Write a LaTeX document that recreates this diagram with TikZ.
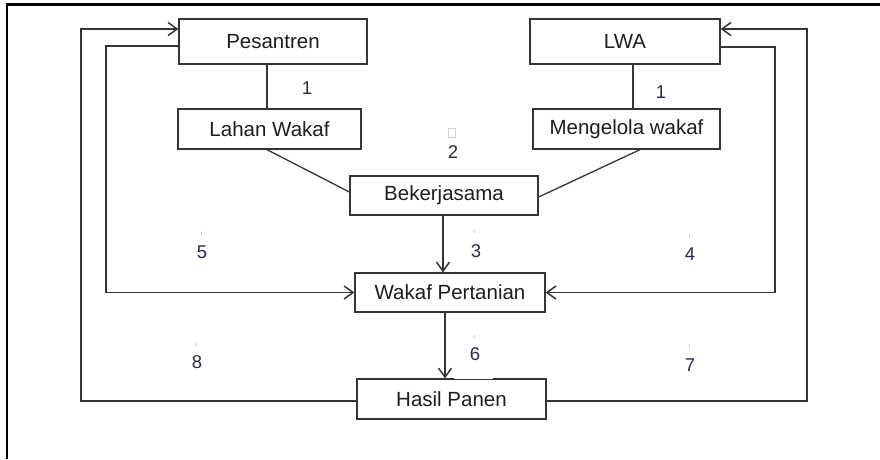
\documentclass[tikz,border=0pt]{standalone}
\usepackage{fontspec}
\setmainfont{Liberation Sans}
\usetikzlibrary{arrows.meta}
\definecolor{ink}{HTML}{1E1E1E}
\definecolor{linec}{HTML}{353535}
\definecolor{numc}{HTML}{2B2B45}
\tikzset{
  box/.style={draw=linec, line width=1.3pt, inner sep=0pt, text=ink,
    font=\fontsize{20.5}{24}\selectfont},
  conn/.style={draw=linec, line width=1.3pt},
  arr/.style={draw=linec, line width=1.5pt,
    -{Straight Barb[length=9pt,width=13pt,line width=1.5pt]}},
  num/.style={text=numc, inner sep=0pt, font=\fontsize{18.5}{22}\selectfont},
  tick/.style={draw=gray!45, line width=0.7pt}
}
\begin{document}
\begin{tikzpicture}[x=1pt,y=-1pt]
  \useasboundingbox[fill=white] (0,0) rectangle (880,459);

  % page frame (left and top edges)
  \draw[line width=2.2pt, black] (7,459) -- (7,4.5) -- (880,4.5);

  % boxes
  \node[box, minimum width=188pt, minimum height=45pt] (pes) at (273,41.5) {Pesantren};
  \node[box, minimum width=190pt, minimum height=45pt] (lwa) at (625,41.5) {LWA};
  \node[box, minimum width=183pt, minimum height=40pt] (lw)  at (269.5,129) {Lahan Wakaf};
  \node[box, minimum width=187pt, minimum height=40pt] (mw)  at (626.5,129) {Mengelola wakaf};
  \node[box, minimum width=188pt, minimum height=39pt] (bk)  at (444,195.5) {Bekerjasama};
  \node[box, minimum width=190pt, minimum height=39pt] (wp)  at (450,292.5) {Wakaf Pertanian};
  \node[box, minimum width=189pt, minimum height=40pt] (hp)  at (451.5,399) {Hasil Panen};

  % small break in the top edge of the last box
  \draw[white, line width=2pt] ([xshift=2pt]hp.north) -- ([xshift=41pt]hp.north);

  % turning points of the feedback loops
  \coordinate (l1) at (81,200);
  \coordinate (l2) at (106,200);
  \coordinate (r1) at (807,200);
  \coordinate (r2) at (775,200);

  % plain links
  \draw[conn] ([xshift=-6pt]pes.south) -- ([xshift=-2.5pt]lw.north);
  \draw[conn] ([xshift=8pt]lwa.south) -- ([xshift=6.5pt]mw.north);
  \draw[conn] ([xshift=-2.5pt]lw.south) -- ([yshift=3.5pt]bk.west);
  \draw[conn] ([xshift=13.5pt]mw.south) -- ([yshift=-1.5pt]bk.east);

  % main flow
  \draw[arr] ([xshift=-1pt]bk.south) -- ([xshift=-1pt]bk.south |- wp.north);
  \draw[arr] ([xshift=-5pt]wp.south) -- ([xshift=-5pt]wp.south |- hp.north);

  % feedback loops
  \draw[arr] ([yshift=-2pt]hp.west) -| (l1) |- ([yshift=12.5pt]pes.west);
  \draw[arr] ([yshift=-4.5pt]pes.west) -| (l2) |- (wp.west);
  \draw[arr] ([yshift=-2pt]hp.east) -| (r1) |- ([yshift=12.5pt]lwa.east);
  \draw[arr] ([yshift=-5.5pt]lwa.east) -| (r2) |- (wp.east);

  % step numbers
  \node[num] (n1a) at (307,88) {1};
  \node[num] (n1b) at (661,92) {1};
  \node[num] (n2) at (453,152) {2};
  \node[num] (n3) at (476,251) {3};
  \node[num] (n4) at (690,254) {4};
  \node[num] (n5) at (202,252) {5};
  \node[num] (n6) at (475,354) {6};
  \node[num] (n7) at (690,365) {7};
  \node[num] (n8) at (197,362) {8};

  % faint marks above the numbers
  \draw[gray!35, line width=0.5pt] (448,128) rectangle (455,137);
  \draw[tick] (474,229.5) -- (474,232.5);
  \draw[tick] (201,231.5) -- (201,234.5);
  \draw[tick] (689,233.5) -- (689,236.5);
  \draw[tick] (474,334.5) -- (474,337.5);
  \draw[tick] (195,342.5) -- (195,345.5);
  \draw[tick] (689,344.5) -- (689,347.5);
\end{tikzpicture}
\end{document}
